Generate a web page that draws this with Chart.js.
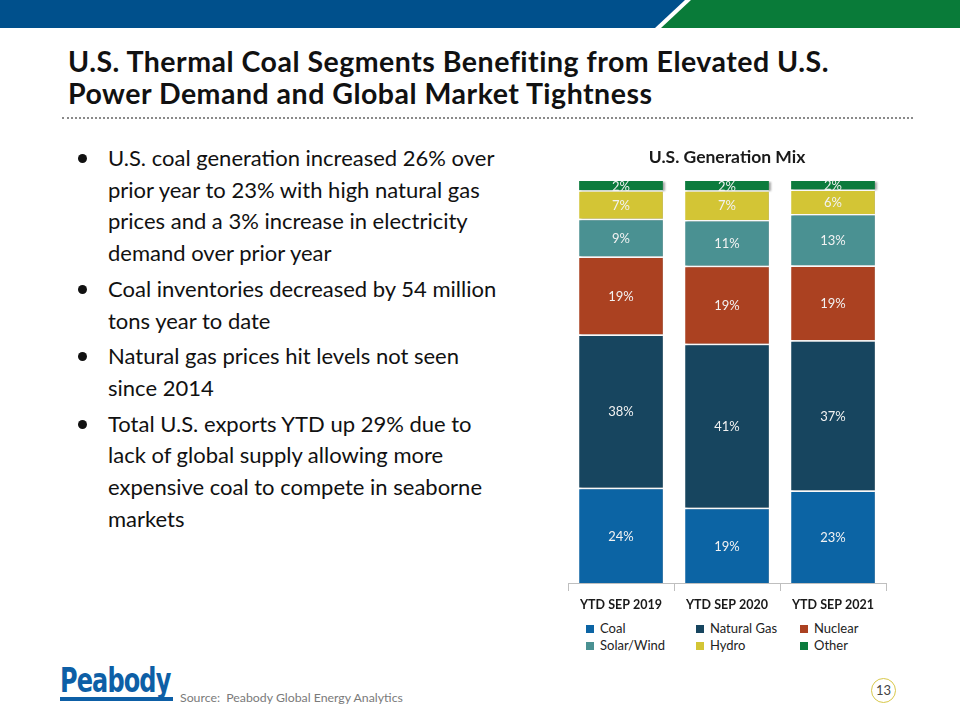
<!DOCTYPE html>
<html>
<head>
<meta charset="utf-8">
<script src="https://cdn.jsdelivr.net/npm/chart.js@4"></script>
<style>
body{margin:0;width:960px;height:720px;overflow:hidden;background:#fff;font-family:Lato,"Open Sans",sans-serif;position:relative}
.band{position:absolute;left:0;top:0;width:960px;height:28px}
.blue{background:#00508c;clip-path:polygon(0 0,685px 0,655px 28px,0 28px)}
.green{background:#097b39;clip-path:polygon(691px 0,960px 0,960px 28px,661px 28px)}
.title{position:absolute;left:68px;top:45px;font-weight:bold;font-size:28.5px;letter-spacing:0.5px;line-height:32px;color:#111}
.dots{position:absolute;left:62px;top:117px;width:851px;border-top:2px dotted #8a8a8a}
.bullets{position:absolute;left:78px;top:142px;width:460px;font-size:22px;line-height:31.7px;color:#111}
.bullets div{position:relative;padding-left:30px;margin-bottom:4px}
.bullets div:before{content:"";position:absolute;left:0;top:12px;width:9px;height:9px;border-radius:50%;background:#111}
#wrap{position:absolute;left:560px;top:140px;width:340px;height:480px}
.legend{position:absolute;left:586px;top:620px;display:grid;grid-template-columns:110px 104px 100px;row-gap:1px;font-size:13px;color:#222}
.legend span{display:inline-block;width:8px;height:8px;margin-right:6px}
.logo{position:absolute;left:60px;top:664px;font-family:"DejaVu Sans Condensed","DejaVu Sans",sans-serif;font-weight:bold;font-size:30px;line-height:30px;color:#0d5fa6;transform-origin:0 0;transform:scale(0.89,1.12);letter-spacing:-1px;white-space:nowrap}
.logobar{position:absolute;left:60px;top:697px;width:113px;height:4px;background:#0d5fa6}
.source{position:absolute;left:180px;top:690px;font-size:12.3px;color:#7a7a7a}
.page{position:absolute;left:871px;top:678px;width:23px;height:23px;border:1.5px solid #d8c84a;border-radius:50%;font-size:13px;text-align:center;line-height:23px;color:#444}
</style>
</head>
<body>
<div class="band blue"></div>
<div class="band green"></div>
<div class="title">U.S. Thermal Coal Segments Benefiting from Elevated U.S.<br>Power Demand and Global Market Tightness</div>
<div class="dots"></div>
<div class="bullets">
<div>U.S. coal generation increased 26% over<br>prior year to 23% with high natural gas<br>prices and a 3% increase in electricity<br>demand over prior year</div>
<div>Coal inventories decreased by 54 million<br>tons year to date</div>
<div>Natural gas prices hit levels not seen<br>since 2014</div>
<div>Total U.S. exports YTD up 29% due to<br>lack of global supply allowing more<br>expensive coal to compete in seaborne<br>markets</div>
</div>
<div id="wrap"><canvas id="myChart"></canvas></div>
<div class="legend" id="legend"></div>
<div class="logo">Peabody</div>
<div class="logobar"></div>
<div class="source">Source:&nbsp;&nbsp;Peabody Global Energy Analytics</div>
<div class="page">13</div>
<script>
const periods=["YTD SEP 2019","YTD SEP 2020","YTD SEP 2021"];
const coal=[23.7,18.7,23.0];
const naturalGas=[38.1,40.8,37.4];
const nuclear=[19.4,19.4,18.6];
const solarWind=[9.4,11.4,12.8];
const hydro=[7.1,7.4,6.1];
const other=[2.3,2.3,2.1];

const seriesNames=["Coal","Natural Gas","Nuclear","Solar/Wind","Hydro","Other"];
const seriesData=[coal,naturalGas,nuclear,solarWind,hydro,other];
const seriesColors=["#0c64a4","#17455f","#ab4121","#4a9192","#d3c535","#0c7b3d"];

const ctx=document.getElementById("myChart");

// white % labels centred in each segment
const segLabels={
    id:"segLabels",
    afterDatasetsDraw(chart){
        const c=chart.ctx;
        c.save();
        c.font="13px Lato, sans-serif";
        c.fillStyle="#f2f2f2";
        c.textAlign="center";
        c.textBaseline="middle";
        chart.data.datasets.forEach((ds,i)=>{
            chart.getDatasetMeta(i).data.forEach((bar,j)=>{
                c.fillText(Math.round(ds.data[j])+"%",bar.x,(bar.y+bar.base)/2+1);
            });
        });
        c.restore();
    }
};

// light shadow on the right of the bars
const barShadow={
    id:"barShadow",
    beforeDatasetsDraw(chart){
        const c=chart.ctx;
        c.save();
        c.shadowColor="rgba(0,0,0,0.35)";
        c.shadowOffsetX=2;
        c.shadowOffsetY=1;
        c.shadowBlur=2;
    },
    afterDatasetsDraw(chart){
        chart.ctx.restore();
    }
};

const myChart=new Chart(ctx,{
    type:"bar",
    data:{
        labels:periods,
        datasets:seriesNames.map((n,i)=>({
            label:n,
            data:seriesData[i],
            backgroundColor:seriesColors[i],
            borderColor:"#ffffff",
            borderWidth:{top:i==5?0:1.5,left:0,right:0,bottom:0},
            borderSkipped:false,
            categoryPercentage:1,
            barPercentage:0.79
        }))
    },
    options:{
        responsive:true,
        maintainAspectRatio:false,
        animation:false,
        layout:{padding:{left:8,right:14,top:0,bottom:2}},
        plugins:{
            legend:{display:false},
            tooltip:{enabled:false},
            title:{
                display:true,
                text:"U.S. Generation Mix",
                color:"#1a1a1a",
                font:{family:"Lato",size:17.5,weight:"bold"},
                padding:{top:6.5,bottom:13.5}
            }
        },
        scales:{
            x:{
                stacked:true,
                grid:{drawOnChartArea:false,tickLength:8,color:"#bfbfbf"},
                border:{color:"#bfbfbf"},
                ticks:{color:"#1a1a1a",font:{family:"Lato",size:12.5,weight:"bold"},padding:6}
            },
            y:{
                stacked:true,
                display:false,
                min:0,
                max:100
            }
        }
    },
    plugins:[barShadow,segLabels]
});

// legend laid out in three columns like the slide
const legend=document.getElementById("legend");
myChart.data.datasets.forEach(ds=>{
    let item=document.createElement("div");
    let box=document.createElement("span");
    box.style.background=ds.backgroundColor;
    item.append(box,ds.label);
    legend.append(item);
});
</script>
</body>
</html>
